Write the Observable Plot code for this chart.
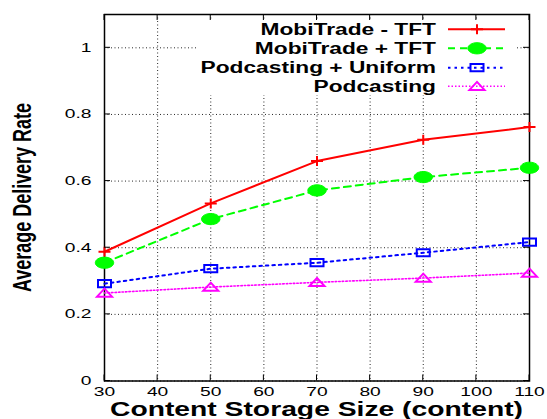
<!DOCTYPE html>
<html><head><meta charset="utf-8">
<script src="https://cdn.jsdelivr.net/npm/d3@7"></script>
<script src="https://cdn.jsdelivr.net/npm/@observablehq/plot@0.6"></script>
<style>html,body{margin:0;padding:0;background:#fff;overflow:hidden}</style>
</head><body><div id="chart"></div>
<script>
const sizes = [30, 50, 70, 90, 110];
const mobiTradeMinusTFT = [0.388, 0.533, 0.660, 0.724, 0.762];
const mobiTradePlusTFT  = [0.355, 0.486, 0.572, 0.612, 0.640];
const podcastingUniform = [0.292, 0.337, 0.355, 0.385, 0.417];
const podcasting        = [0.264, 0.282, 0.296, 0.309, 0.324];
const seriesNames = ["MobiTrade - TFT", "MobiTrade + TFT", "Podcasting + Uniform", "Podcasting"];
const xTicks = [30, 40, 50, 60, 70, 80, 90, 100, 110];
const yTicks = [0, 0.2, 0.4, 0.6, 0.8, 1];
const xLabel = "Content Storage Size (content)";
const yLabel = "Average Delivery Rate";

const valueArrays = [mobiTradeMinusTFT, mobiTradePlusTFT, podcastingUniform, podcasting];

const symPlus = {draw(c){c.moveTo(-6,0);c.lineTo(6,0);c.moveTo(0,-5);c.lineTo(0,5);}};
const symEllipse = {draw(c){const rx=9.2, ry=5.6, k=0.5523;
  c.moveTo(rx,0); c.bezierCurveTo(rx,ry*k,rx*k,ry,0,ry); c.bezierCurveTo(-rx*k,ry,-rx,ry*k,-rx,0);
  c.bezierCurveTo(-rx,-ry*k,-rx*k,-ry,0,-ry); c.bezierCurveTo(rx*k,-ry,rx,-ry*k,rx,0); c.closePath();}};
const symRect = {draw(c){c.rect(-6.5,-3.6,13,7.2);}};
const symTri = {draw(c){c.moveTo(0,-4.4);c.lineTo(7.5,3.6);c.lineTo(-7.5,3.6);c.closePath();}};

const styles = [
  {stroke:"#ff0000", dash:null,    width:2,   symbol:symPlus,    fill:"none",    sw:2},
  {stroke:"#00ff00", dash:"7,5",   width:2,   symbol:symEllipse, fill:"#00ff00", sw:1},
  {stroke:"#0000ff", dash:"2.5,4", width:2,   symbol:symRect,    fill:"none",    sw:2},
  {stroke:"#ff00ff", dash:"1.5,2", width:1.6, symbol:symTri,     fill:"none",    sw:2}
];

const table = seriesNames.flatMap((name, i) => sizes.map((s, j) => ({series: name, x: s, y: valueArrays[i][j]})));

const seriesMarks = seriesNames.flatMap((name, i) => {
  const st = styles[i];
  const data = table.filter(d => d.series === name);
  return [
    Plot.line(data, {x: "x", y: "y", stroke: st.stroke, strokeWidth: st.width, strokeDasharray: st.dash}),
    Plot.dot(data, {x: "x", y: "y", symbol: st.symbol, stroke: st.stroke, strokeWidth: st.sw, fill: st.fill, r: 5})
  ];
});

const chart = Plot.plot({
  width: 547, height: 419,
  marginLeft: 104, marginRight: 18, marginTop: 14, marginBottom: 38.5,
  style: {fontFamily: "'Liberation Sans', Arial, sans-serif", fontSize: "12px", color: "#000", background: "#fff"},
  x: {domain: [30, 110]},
  y: {domain: [0, 1.1]},
  marks: [
    Plot.gridX(xTicks, {stroke: "#111", strokeOpacity: 0.9, strokeDasharray: "1,2.5", strokeWidth: 1}),
    Plot.gridY(yTicks, {stroke: "#111", strokeOpacity: 0.9, strokeDasharray: "1,2.5", strokeWidth: 1}),
    Plot.axisX(xTicks, {tickSize: 0, tickPadding: 6.5, label: null, fontSize: 12}),
    Plot.axisY(yTicks, {tickSize: 0, tickPadding: 13, label: null, fontSize: 12, tickFormat: d => String(d)}),
    Plot.frame({stroke: "#000", strokeWidth: 1.5}),
    ...seriesMarks
  ]
});
document.getElementById("chart").appendChild(chart);

const svg = d3.select(chart);
const xs = chart.scale("x"), ys = chart.scale("y");
const L = 104, R = 529, T = 14, B = ys.apply(0);

// legend background (covers grid)
svg.insert("rect", '[aria-label="frame"]')
  .attr("x", 196).attr("y", 21).attr("width", 319).attr("height", 74).attr("fill", "#fff");

// inner (mirrored) ticks
const tg = svg.append("g").attr("stroke", "#000").attr("stroke-width", 1);
xTicks.forEach(t => {
  const px = xs.apply(t);
  tg.append("line").attr("x1", px).attr("x2", px).attr("y1", B).attr("y2", B - 6);
  tg.append("line").attr("x1", px).attr("x2", px).attr("y1", T).attr("y2", T + 6);
});
yTicks.forEach(t => {
  const py = ys.apply(t);
  tg.append("line").attr("x1", L).attr("x2", L + 6).attr("y1", py).attr("y2", py);
  tg.append("line").attr("x1", R).attr("x2", R - 6).attr("y1", py).attr("y2", py);
});

// stretch tick labels
svg.selectAll('[aria-label="x-axis tick label"] text, [aria-label="y-axis tick label"] text').each(function() {
  const len = this.getComputedTextLength();
  this.setAttribute("textLength", len * 1.6);
  this.setAttribute("lengthAdjust", "spacingAndGlyphs");
});

// legend
const rowsY = [29.3, 48.3, 67.7, 86.3];
const lg = svg.append("g").attr("font-family", "'Liberation Sans', Arial, sans-serif");
seriesNames.forEach((name, i) => {
  const st = styles[i], cy = rowsY[i];
  const t = lg.append("text").attr("x", 436).attr("y", cy + 5.6).attr("text-anchor", "end")
    .attr("font-size", 16).attr("font-weight", "bold").attr("fill", "#000").text(name);
  const len = t.node().getComputedTextLength();
  t.attr("textLength", len * 1.42).attr("lengthAdjust", "spacingAndGlyphs");
  lg.append("line").attr("x1", 448).attr("x2", 505).attr("y1", cy).attr("y2", cy)
    .attr("stroke", st.stroke).attr("stroke-width", st.width).attr("stroke-dasharray", st.dash);
  lg.append("path").attr("d", d3.symbol(st.symbol)()).attr("transform", `translate(477,${cy})`)
    .attr("stroke", st.stroke).attr("stroke-width", st.sw).attr("fill", st.fill);
});

// axis titles
svg.append("text").attr("x", 316.5).attr("y", 415.8).attr("text-anchor", "middle")
  .attr("font-size", 19.5).attr("font-weight", "bold").attr("fill", "#000")
  .attr("font-family", "'Liberation Sans', Arial, sans-serif")
  .attr("textLength", 413).attr("lengthAdjust", "spacingAndGlyphs").text(xLabel);
svg.append("text").attr("transform", "translate(31,197.5) rotate(-90)").attr("text-anchor", "middle")
  .attr("font-size", 25).attr("font-weight", "bold").attr("fill", "#000")
  .attr("font-family", "'Liberation Sans', Arial, sans-serif")
  .attr("textLength", 189).attr("lengthAdjust", "spacingAndGlyphs").text(yLabel);
</script>
</body></html>
